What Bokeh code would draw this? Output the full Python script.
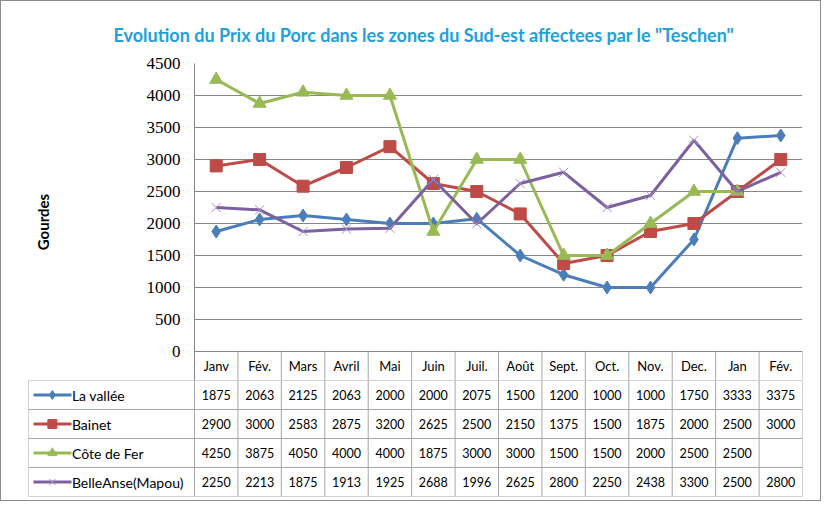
from bokeh.plotting import figure
from bokeh.layouts import column
from bokeh.models import Range1d, FixedTicker, Title
from bokeh.core.properties import value
from bokeh.embed import file_html
from bokeh.resources import INLINE

title_text = 'Evolution du Prix du Porc dans les zones  du Sud-est affectees par le "Teschen"'
months = ["Janv", "Fév.", "Mars", "Avril", "Mai", "Juin", "Juil.", "Août", "Sept.", "Oct.", "Nov.", "Dec.", "Jan", "Fév."]
series_names = ["La vallée", "Bainet", "Côte de Fer", "BelleAnse(Mapou)"]
la_vallee = [1875, 2063, 2125, 2063, 2000, 2000, 2075, 1500, 1200, 1000, 1000, 1750, 3333, 3375]
bainet = [2900, 3000, 2583, 2875, 3200, 2625, 2500, 2150, 1375, 1500, 1875, 2000, 2500, 3000]
cote_de_fer = [4250, 3875, 4050, 4000, 4000, 1875, 3000, 3000, 1500, 1500, 2000, 2500, 2500, None]
belleanse = [2250, 2213, 1875, 1913, 1925, 2688, 1996, 2625, 2800, 2250, 2438, 3300, 2500, 2800]
y_ticks = [0, 500, 1000, 1500, 2000, 2500, 3000, 3500, 4000, 4500]

series = [la_vallee, bainet, cote_de_fer, belleanse]
colors = ["#4a7ebb", "#be4b48", "#98b954", "#7d60a0"]
marker_types = ["diamond", "square", "triangle", "x"]
marker_sizes = [13, 12, 13, 13]
marker_fill = ["#4a7ebb", "#be4b48", "#98b954", None]
marker_line = ["#4a7ebb", "#be4b48", "#98b954", "#a693c4"]

FONT = value("Lato")
GRID = "#868686"
TABLE_LINE = "#a6a6a6"

W = 819
LEFT = 193
RIGHT = 18
TOP = 62
FRAME_H = 288
HEADER_H = 29
ROW_H = 29
LABEL_PX = 166
n = len(months)
xs = [i + 0.5 for i in range(n)]
y_top = y_ticks[-1]
y_bottom = -HEADER_H * (y_top - y_ticks[0]) / FRAME_H

# ---------------- chart (with month header row) ----------------
p = figure(width=W, height=TOP + FRAME_H + HEADER_H, output_backend="svg", toolbar_location=None,
           x_range=Range1d(0, n), y_range=Range1d(y_bottom, y_top),
           x_axis_location=None, min_border_left=LEFT, min_border_right=RIGHT,
           min_border_top=TOP, min_border_bottom=0)
p.frame_align = False
p.outline_line_color = None
p.xgrid.visible = False
p.ygrid.grid_line_color = GRID
p.ygrid.grid_line_width = 1
p.yaxis.ticker = FixedTicker(ticks=y_ticks)
p.yaxis.minor_tick_line_color = None
p.yaxis.major_tick_out = 0
p.yaxis.major_tick_in = 0
p.yaxis.major_label_standoff = 14
p.yaxis.axis_line_color = GRID
p.yaxis.major_label_text_font = "Liberation Serif"
p.yaxis.major_label_text_font_size = "17px"
p.yaxis.major_label_text_color = "#000000"
p.yaxis.axis_label = "Gourdes"
p.yaxis.axis_label_text_font = "Lato"
p.yaxis.axis_label_text_font_style = "bold"
p.yaxis.axis_label_text_font_size = "15px"
p.yaxis.axis_label_text_color = "#000000"
p.yaxis.axis_label_standoff = 92

t = Title(text=title_text, align="left", offset=-81, standoff=36,
          text_font="Lato", text_font_style="bold", text_font_size="18px",
          text_color="#22a0d8")
p.add_layout(t, "above")

for vals, c, mt, ms, mf, ml in zip(series, colors, marker_types, marker_sizes, marker_fill, marker_line):
    yv = [float("nan") if v is None else v for v in vals]
    p.line(xs, yv, line_color=c, line_width=3)
    p.scatter(xs, yv, marker=mt, size=ms, fill_color=mf, line_color=ml, line_width=1)

# header row cells
vx = list(range(1, n + 1))
p.segment(x0=vx, y0=[0] * len(vx), x1=vx, y1=[y_bottom] * len(vx), line_color=TABLE_LINE, line_width=1)
p.text(x=xs, y=[y_bottom / 2] * n, text=months, text_align="center", text_baseline="middle",
       text_font=FONT, text_font_size="13px", text_color="#000000")

# ---------------- table rows ----------------
col_px = (W - LEFT - RIGHT) / n
label_w = LABEL_PX / col_px
n_rows = len(series)
q = figure(width=W, height=n_rows * ROW_H + 4, output_backend="svg", toolbar_location=None,
           x_range=Range1d(-label_w, n), y_range=Range1d(0, n_rows),
           x_axis_location=None, y_axis_location=None,
           min_border_left=LEFT - LABEL_PX, min_border_right=RIGHT,
           min_border_top=0, min_border_bottom=4)
q.frame_align = False
q.outline_line_color = None
q.grid.visible = False

hy = [n_rows - k for k in range(n_rows + 1)]
q.segment(x0=[-label_w] * len(hy), y0=hy, x1=[n] * len(hy), y1=hy, line_color=TABLE_LINE, line_width=1)
vx2 = [-label_w] + list(range(n + 1))
q.segment(x0=vx2, y0=[0] * len(vx2), x1=vx2, y1=[n_rows] * len(vx2), line_color=TABLE_LINE, line_width=1)

for s, (vals, name, c, mt, mf, ml) in enumerate(zip(series, series_names, colors, marker_types, marker_fill, marker_line)):
    yrow = n_rows - 0.5 - s
    txt = ["" if v is None else str(v) for v in vals]
    q.text(x=xs, y=[yrow] * n, text=txt, text_align="center", text_baseline="middle",
           text_font=FONT, text_font_size="12.5px", text_color="#000000")
    q.line([-label_w + 0.115, -label_w + 0.99], [yrow, yrow], line_color=c, line_width=3)
    q.scatter([-label_w + 0.55], [yrow], marker=mt, size=9, fill_color=mf, line_color=ml, line_width=1)
    q.text(x=[-label_w + 1.0], y=[yrow], text=[name], text_align="left", text_baseline="middle",
           text_font=FONT, text_font_size="14px", text_color="#000000")

layout = column(p, q, spacing=0, styles={"border": "1px solid #8c8c8c", "background": "#ffffff"})

with open("out.html", "w") as f:
    f.write(file_html(layout, INLINE))
